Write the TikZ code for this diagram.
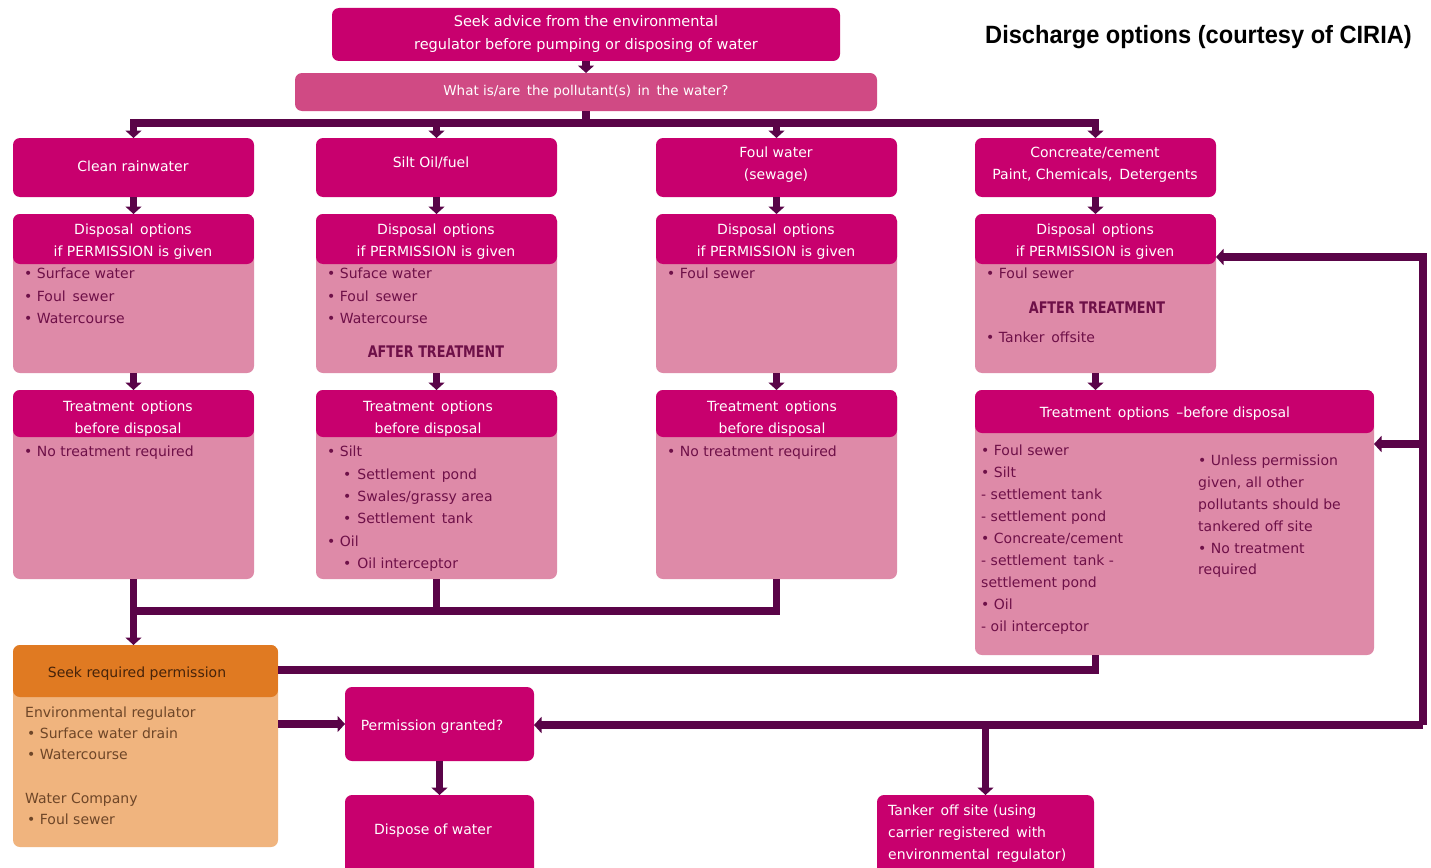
\documentclass[tikz,border=0pt]{standalone}
\usepackage{fontspec}
\usepackage{graphicx}
\setmainfont{DejaVu Sans}
\newfontfamily\titlefont{Liberation Sans}
\usetikzlibrary{arrows.meta}
\definecolor{hd}{RGB}{200,0,110}
\definecolor{hdl}{RGB}{208,74,132}
\definecolor{bd}{RGB}{222,138,168}
\definecolor{lnc}{RGB}{90,4,72}
\definecolor{tx}{RGB}{110,16,72}
\definecolor{orh}{RGB}{224,122,34}
\definecolor{orb}{RGB}{240,180,126}
\definecolor{brn}{RGB}{70,35,10}
\definecolor{brb}{RGB}{110,70,40}
\tikzset{
  bx/.style={rounded corners=7pt, inner sep=0pt, outer sep=0pt, anchor=north west, draw=none},
  split/.style={fill=bd, path picture={\fill[hd] (path picture bounding box.north west) rectangle ([yshift=-#1pt]path picture bounding box.north east);}},
  osplit/.style={fill=orb, path picture={\fill[orh] (path picture bounding box.north west) rectangle ([yshift=-#1pt]path picture bounding box.north east);}},
  wt/.style={text=white, font=\fontsize{14}{22}\selectfont, inner sep=0pt, align=center, yshift=-2pt},
  lst/.style={text=tx, font=\fontsize{14}{22.3}\selectfont, inner sep=0pt, align=left, anchor=north west, yshift=-2pt},
  aft/.style={text=tx, inner sep=0pt, yshift=-1pt},
  conn/.style={draw=lnc, line width=7.5pt},
  arr/.style={conn, -{Triangle[width=16pt,length=7.5pt]}}
}
\newcommand{\mkbox}[6]{\node[bx,#6,minimum width={#4pt-#2pt},minimum height={#5pt-#3pt}] (#1) at (#2,#3) {};}
\newcommand{\aftertext}{\scalebox{0.8}[1]{\fontsize{16}{18}\selectfont\bfseries AFTER TREATMENT}}
\begin{document}
\begin{tikzpicture}[x=1pt,y=-1pt]
\useasboundingbox[fill=white] (0,0) rectangle (1431,867);

% boxes
\mkbox{adv}{332}{8}{840}{61}{fill=hd}
\mkbox{what}{295}{73}{877}{111}{fill=hdl}
\mkbox{c1}{13}{138}{254}{197}{fill=hd}
\mkbox{c2}{316}{138}{557}{197}{fill=hd}
\mkbox{c3}{656}{138}{897}{197}{fill=hd}
\mkbox{c4}{975}{138}{1216}{197}{fill=hd}
\mkbox{d1}{13}{214}{254}{373}{split=50}
\mkbox{d2}{316}{214}{557}{373}{split=50}
\mkbox{d3}{656}{214}{897}{373}{split=50}
\mkbox{d4}{975}{214}{1216}{373}{split=50}
\mkbox{t1}{13}{390}{254}{579}{split=47}
\mkbox{t2}{316}{390}{557}{579}{split=47}
\mkbox{t3}{656}{390}{897}{579}{split=47}
\mkbox{t4}{975}{390}{1374}{655}{split=43}
\mkbox{sp}{13}{645}{278}{847}{osplit=52}
\mkbox{perm}{345}{687}{534}{761}{fill=hd}
\mkbox{disp}{345}{795}{534}{885}{fill=hd}
\mkbox{tank}{877}{795}{1094}{885}{fill=hd}

% title
\node[anchor=east, inner sep=0pt] (title) at (1412,37) {\scalebox{0.945}[1]{\titlefont\bfseries\fontsize{25}{29}\selectfont Discharge options (courtesy of CIRIA)}};

% texts
\node[wt, font=\fontsize{14.5}{23}\selectfont] (xadv) at (586,31.5) {Seek advice from the environmental\\regulator before pumping or disposing of water};
\node[wt, font=\fontsize{13.5}{16}\selectfont] (xwhat) at (586,90) {What is/are\, the pollutant(s)\, in\, the water?};
\node[wt] (xc1) at (133,164) {Clean rainwater};
\node[wt] (xc2) at (431,161) {Silt Oil/fuel};
\node[wt] (xc3) at (776,163) {Foul water\\(sewage)};
\node[wt] (xc4) at (1095,163) {Concreate/cement\\Paint, Chemicals,\, Detergents};
\foreach \n/\xx in {xd1/133, xd2/436, xd3/776, xd4/1095}
  \node[wt] (\n) at (\xx,240) {Disposal\, options\\if PERMISSION is given};
\foreach \n/\xx in {xt1/128, xt2/428, xt3/772}
  \node[wt] (\n) at (\xx,416.5) {Treatment\, options\\before disposal};
\node[wt] (xt4) at (1165,412) {Treatment\, options \,--before disposal};

\node[lst] (ld1) at (24,266) {• Surface water\\• Foul\, sewer\\• Watercourse};
\node[lst] (ld2) at (327,266) {• Suface water\\• Foul\, sewer\\• Watercourse};
\node[aft] (ad2) at (436,351) {\aftertext};
\node[lst] (ld3) at (667,266) {• Foul sewer};
\node[lst] (ld4a) at (986,266) {• Foul sewer};
\node[aft] (ad4) at (1097,307) {\aftertext};
\node[lst] (ld4b) at (986,330) {• Tanker\, offsite};

\node[lst] (lt1) at (24,444) {• No treatment required};
\node[lst] (lt2) at (327,444) {• Silt\\\hspace*{16pt}•\hspace*{6pt}Settlement\, pond\\\hspace*{16pt}•\hspace*{6pt}Swales/grassy area\\\hspace*{16pt}•\hspace*{6pt}Settlement\, tank\\• Oil\\\hspace*{16pt}•\hspace*{6pt}Oil interceptor};
\node[lst] (lt3) at (667,444) {• No treatment required};
\node[lst, font=\fontsize{14}{22}\selectfont] (lt4a) at (981,443) {• Foul sewer\\• Silt\\- settlement tank\\- settlement pond\\• Concreate/cement\\- settlement\, tank -\\settlement pond\\• Oil\\- oil interceptor};
\node[lst, font=\fontsize{14}{21.8}\selectfont] (lt4b) at (1198,453) {• Unless permission\\given, all other\\pollutants should be\\tankered off site\\• No treatment\\required};

\node[text=brn, font=\fontsize{14}{17}\selectfont, inner sep=0pt, yshift=-2pt] (xsp) at (137,672) {Seek required permission};
\node[lst, text=brb, font=\fontsize{14}{21}\selectfont] (lsp) at (25,705) {Environmental regulator\\\hspace*{2pt}• Surface water drain\\\hspace*{2pt}• Watercourse\\[23pt]Water Company\\\hspace*{2pt}• Foul sewer};
\node[wt] (xperm) at (432,725) {Permission granted?};
\node[wt] (xdisp) at (433,829) {Dispose of water};
\node[wt, align=left, anchor=north west] (xtank) at (888,803) {Tanker\, off site (using\\carrier registered\, with\\environmental\, regulator)};

% connectors
\coordinate (bus) at (586,123);
\draw[arr] (adv.south) -- (what.north);
\foreach \c in {c1,c2,c3,c4}
  \draw[arr] (what.south) -- (bus) -| (\c.north);
\foreach \i in {1,2,3,4}
  \draw[arr] (c\i.south) -- (d\i.north);
\foreach \i in {1,2,3}
  \draw[arr] (d\i.south) -- (t\i.north);
\draw[arr] (d4.south) -- (d4.south |- t4.north);

\coordinate (bb) at (133,611);
\draw[conn] (t3.south) |- (bb);
\draw[conn] (t2.south) -- (t2.south |- bb);
\draw[arr] (t1.south) -- (t1.south |- sp.north);

\coordinate (ya) at (0,670);
\draw[conn] (d4.south |- t4.south) |- (sp.east |- ya);

\draw[arr] (sp.east |- perm.west) -- (perm.west);
\draw[arr] (perm.south) -- (disp.north);

\coordinate (rc) at (1423,725);
\coordinate (rt) at (1423,257);
\coordinate (rm) at (1423,444);
\draw[arr] (rc) -- (perm.east |- rc);
\draw[arr] (rc) -- (rt) -- (d4.east |- rt);
\draw[arr] (rm) -- (t4.east |- rm);
\draw[arr] (tank.north |- rc) -- (tank.north);
\end{tikzpicture}
\end{document}
